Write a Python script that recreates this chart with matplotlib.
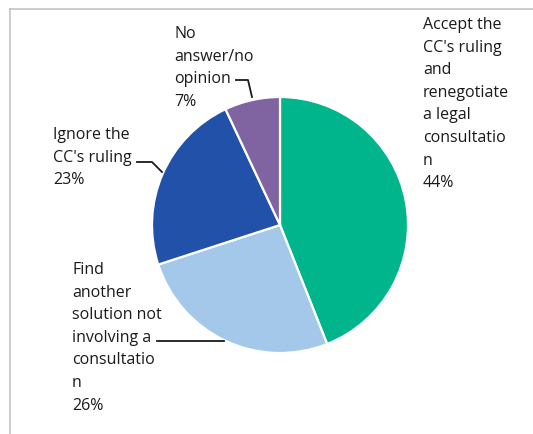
import matplotlib.pyplot as plt

labels = ["Accept the\nCC's ruling\nand\nrenegotiate\na legal\nconsultatio\nn",
          "Find\nanother\nsolution not\ninvolving a\nconsultatio\nn",
          "Ignore the\nCC's ruling",
          "No\nanswer/no\nopinion"]
shares = [44, 26, 23, 7]
colors = ["#00b58b", "#a3c8ea", "#2151a8", "#8064a2"]

plt.rcParams['font.family'] = ['Open Sans', 'DejaVu Sans']

W, H = 533, 434
fig = plt.figure(figsize=(W / 100, H / 100), dpi=100)
ax = fig.add_axes([0, 0, 1, 1])

# pie in pixel coordinates (y inverted -> mirror angles)
ax.pie(shares, colors=colors, startangle=-90, counterclock=True,
       center=(280, 225), radius=128,
       wedgeprops=dict(edgecolor="white", linewidth=1.6))
ax.set_xlim(0, W)
ax.set_ylim(H, 0)
ax.set_aspect("equal")
ax.axis("off")

# frame lines
ax.plot([10, W], [9, 9], color="#c4c4c4", lw=1.2)
ax.plot([10, 10], [9, H], color="#c4c4c4", lw=1.2)

# label text (top-left anchor, first line)
pos = [(423, 17), (72, 262), (53, 127), (174, 26)]
for lab, s, (x, y) in zip(labels, shares, pos):
    ax.text(x, y, f"{lab}\n{s}%", ha="left", va="top", fontsize=11.5,
            linespacing=1.55, color="#1a1a1a")

# leader lines
ax.plot([236, 248, 252], [80, 80, 97], color="#1a1a1a", lw=1.3)
ax.plot([137, 152, 162], [162, 162, 172], color="#1a1a1a", lw=1.3)
ax.plot([157, 224], [341, 341], color="#1a1a1a", lw=1.3)

fig.savefig("out.png", dpi=100)
